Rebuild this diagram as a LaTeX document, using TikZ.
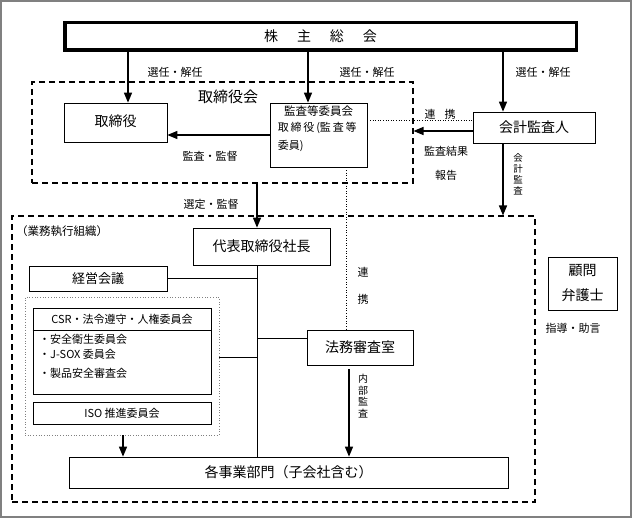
\documentclass[tikz,border=0pt]{standalone}
\usepackage{fontspec}
\setmainfont{Noto Sans CJK JP}
\usepackage{tikz}
\usetikzlibrary{arrows,positioning}

\tikzset{
  box/.style={draw, line width=0.9pt, inner sep=0pt, font=\fontsize{14}{16}\selectfont},
  lbl/.style={inner sep=0pt, font=\fontsize{11}{12}\selectfont},
  arr/.style={->, >=triangle 45, line width=1.3pt},
  grp/.style={draw, dash pattern=on 6pt off 4pt, line width=1.2pt, inner sep=0pt},
  link/.style={dotted, line width=0.6pt}
}

\begin{document}
\begin{tikzpicture}[x=1pt, y=-1pt]
\useasboundingbox (0,0) rectangle (632,519);
\draw[gray, line width=1.2pt] (1,1) rectangle (631,517);

% frames
\node[grp, minimum width=381pt, minimum height=101pt] (torikai) at (222.5,132.5) {};
\node[grp, minimum width=523pt, minimum height=286pt] (gyomu) at (273.5,359) {};
\node[draw, gray, dotted, line width=0.7pt, minimum width=194pt, minimum height=138pt] (iinkai) at (122,366) {};

% boxes
\node[box, line width=3.5pt, minimum width=511.5pt, minimum height=27.5pt] (soukai) at (320.5,36.5) {株\hspace{19pt}主\hspace{19pt}総\hspace{19pt}会};
\node[box, minimum width=103pt, minimum height=39pt] (torishimari) at (115.5,122.5) {\raisebox{3pt}{取締役}};
\node[box, minimum width=97pt, minimum height=64pt] (kansa) at (318.5,135) {};
\node[lbl, font=\fontsize{11.5}{12}\selectfont, anchor=north] (kansaT) at ([yshift=-3.5pt]kansa.north) {監査等委員会};
\node[lbl, font=\fontsize{11}{18}\selectfont, anchor=north west, align=left] (kansaM) at ([xshift=8pt,yshift=-19pt]kansa.north west) {取\,締\,役\,(監\,査\,等\\委員)};
\node[box, minimum width=122pt, minimum height=31pt] (kaikei) at (534,127.5) {会計監査人};
\node[box, minimum width=137pt, minimum height=37pt] (daihyo) at (261.5,246.5) {代表取締役社長};
\node[box, font=\fontsize{13}{14}\selectfont, minimum width=138pt, minimum height=25pt] (keiei) at (98,278.5) {経営会議};
\node[box, minimum width=178pt, minimum height=86pt] (csr) at (122,351) {};
\node[lbl] (csrT) at (122,319.5) {CSR・法令遵守・人権委員会};
\node[lbl, anchor=west] (item1) at (39,339) {・安全衛生委員会};
\node[lbl, anchor=west] (item2) at (39,354) {・J-SOX 委員会};
\node[lbl, anchor=west] (item3) at (39,373) {・製品安全審査会};
\node[box, font=\fontsize{11}{12}\selectfont, minimum width=178pt, minimum height=22pt] (iso) at (122,413) {ISO 推進委員会};
\node[box, minimum width=106pt, minimum height=35pt] (houmu) at (360,347.5) {法務審査室};
\node[box, minimum width=439pt, minimum height=31pt] (jigyo) at (288.5,472.5) {各事業部門（子会社含む）};
\node[box, font=\fontsize{14}{25}\selectfont, align=center, minimum width=69pt, minimum height=53pt] (komon) at (582.5,283.5) {顧問\\弁護士};

% connectors
\coordinate (a1) at (128,0);
\coordinate (a2) at (308,0);
\coordinate (a3) at (503,0);
\coordinate (v1) at (257,0);
\coordinate (v2) at (346,0);
\coordinate (v3) at (123,0);
\coordinate (v4) at (349,0);
\coordinate (h1) at (0,135);
\coordinate (h2) at (0,131);
\coordinate (h3) at (0,120);
\coordinate (h4) at (0,357);
\coordinate (h5) at (0,338);
\coordinate (h6) at (0,330);
\draw[arr] (soukai.south -| a1) -- (torishimari.north -| a1);
\draw[arr] (soukai.south -| a2) -- (kansa.north -| a2);
\draw[arr] (soukai.south -| a3) -- (kaikei.north -| a3);
\draw[arr] (kansa.west |- h1) -- (torishimari.east |- h1);
\draw[arr] (kaikei.west |- h2) -- (torikai.east |- h2);
\draw[link] (kansa.east |- h3) -- (kaikei.west |- h3);
\draw[arr] (torikai.south -| v1) -- (daihyo.north -| v1);
\draw[arr] (kaikei.south -| a3) -- (gyomu.north -| a3);
\draw[link] (kansa.south -| v2) -- (houmu.north -| v2);
\draw[line width=0.9pt] (daihyo.south -| v1) -- (jigyo.north -| v1);
\draw[line width=0.9pt] (keiei.east) -- (keiei.east -| v1);
\draw[line width=0.9pt] (iinkai.east |- h4) -- (v1 |- h4);
\draw[line width=0.9pt] (v1 |- h5) -- (houmu.west |- h5);
\draw[line width=0.9pt] (csr.west |- h6) -- (csr.east |- h6);
\draw[arr] (iinkai.south -| v3) -- (jigyo.north -| v3);
\draw[arr, shorten <=4pt] (houmu.south -| v4) -- (jigyo.north -| v4);

% labels
\node[lbl] (sen1) at (175,72) {選任・解任};
\node[lbl] (sen2) at (367,72) {選任・解任};
\node[lbl] (sen3) at (543,72) {選任・解任};
\node[lbl, font=\fontsize{15}{16}\selectfont] (torikaiT) at (228,97) {取締役会};
\node[lbl] (renkei1) at (440,114) {連\hspace{9pt}携};
\node[lbl] (kekka) at (446,151) {監査結果};
\node[lbl] (hokoku) at (446,175) {報告};
\node[lbl, font=\fontsize{9.5}{11}\selectfont, align=center] (kaikeiV) at (518,174) {会\\計\\監\\査};
\node[lbl] (kantoku) at (210,156) {監査・監督};
\node[lbl] (sentei) at (211,204) {選定・監督};
\node[lbl, font=\fontsize{11.5}{12}\selectfont, anchor=west] (gyomuT) at (16,231) {（業務執行組織）};
\node[lbl] (ren2) at (363,272) {連};
\node[lbl] (kei2) at (363,299) {携};
\node[lbl, font=\fontsize{10}{11.5}\selectfont, align=center] (naibu) at (363,396) {内\\部\\監\\査};
\node[lbl] (shido) at (573,328) {指導・助言};
\end{tikzpicture}
\end{document}
